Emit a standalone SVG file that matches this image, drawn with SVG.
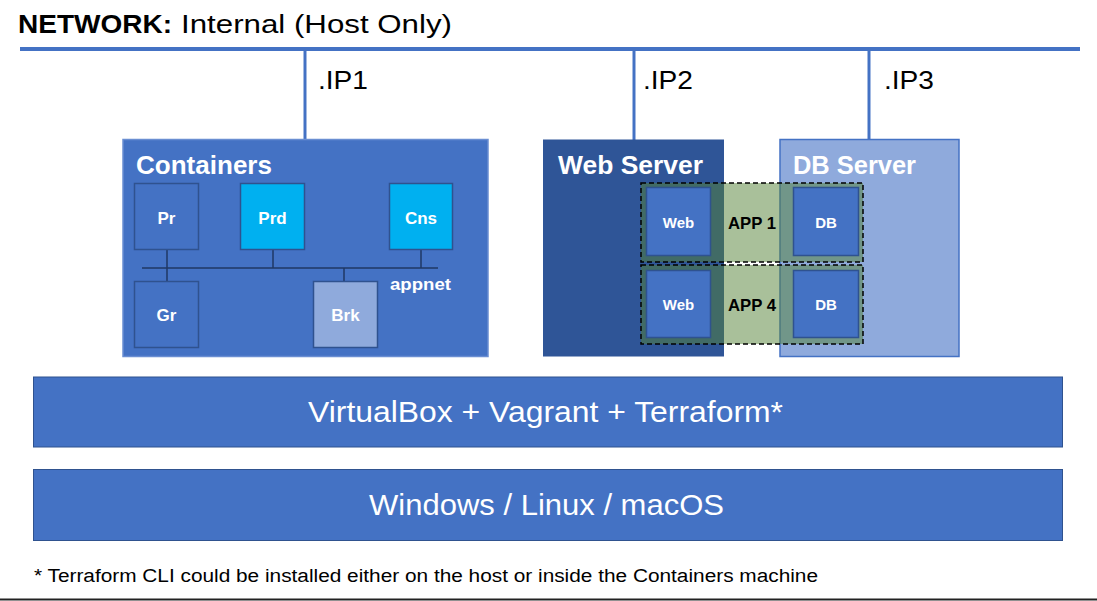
<svg xmlns="http://www.w3.org/2000/svg" width="1097" height="601" viewBox="0 0 1097 601">
<style>
text{font-family:"Liberation Sans","DejaVu Sans",sans-serif}
.w{fill:#fff}
.b{font-weight:bold}
.net{stroke:#4472C4;fill:none}
.lan{stroke:#1F3864;stroke-width:1.5;fill:none}
.sq{stroke:#2F528F;stroke-width:1.5}
.mid{fill:#4472C4}
.cyan{fill:#00B0F0}
.pale{fill:#8FAADC}
.app{fill:#548235;fill-opacity:0.5;stroke:#000;stroke-width:1.5;stroke-dasharray:5 3}
.bar{fill:#4472C4;stroke:#2F528F;stroke-width:1}
</style>
<rect width="1097" height="601" fill="#fff"/>
<g id="title">
<text x="18" y="33" font-size="25" class="b" fill="#000" textLength="154" lengthAdjust="spacingAndGlyphs">NETWORK:</text>
<text x="181" y="33" font-size="25" fill="#000" textLength="271" lengthAdjust="spacingAndGlyphs">Internal (Host Only)</text>
</g>
<g id="connectors">
<line class="net" x1="20" y1="49" x2="1080" y2="49" stroke-width="4"/>
<line class="net" x1="305" y1="49" x2="305" y2="140" stroke-width="3"/>
<line class="net" x1="634" y1="49" x2="634" y2="140" stroke-width="3"/>
<line class="net" x1="869" y1="49" x2="869" y2="140" stroke-width="3"/>
</g>
<g id="ip-labels" font-size="26" fill="#000">
<text x="318" y="89" textLength="50" lengthAdjust="spacingAndGlyphs">.IP1</text>
<text x="643" y="89" textLength="50" lengthAdjust="spacingAndGlyphs">.IP2</text>
<text x="884" y="89" textLength="50" lengthAdjust="spacingAndGlyphs">.IP3</text>
</g>
<g id="containers">
<rect x="123" y="139.5" width="365" height="217" fill="#4472C4" stroke="#6A8ED2" stroke-width="1.5"/>
<text x="136" y="174" font-size="25" class="w b" textLength="136" lengthAdjust="spacingAndGlyphs">Containers</text>
<g id="appnet-links">
<line class="lan" x1="142" y1="268" x2="438" y2="268"/>
<line class="lan" x1="167" y1="250" x2="167" y2="281"/>
<line class="lan" x1="273" y1="250" x2="273" y2="268"/>
<line class="lan" x1="421" y1="250" x2="421" y2="268"/>
<line class="lan" x1="344" y1="268" x2="344" y2="281"/>
</g>
<text x="390" y="290" font-size="17" class="w b" textLength="61" lengthAdjust="spacingAndGlyphs">appnet</text>
<g id="pr"><rect class="sq mid" x="134.5" y="183.5" width="64" height="66"/><text x="166.5" y="224" font-size="17" class="w b" text-anchor="middle">Pr</text></g>
<g id="prd"><rect class="sq cyan" x="240.5" y="183.5" width="64" height="66"/><text x="272.5" y="224" font-size="17" class="w b" text-anchor="middle">Prd</text></g>
<g id="cns"><rect class="sq cyan" x="389.5" y="183.5" width="63" height="66"/><text x="421" y="224" font-size="17" class="w b" text-anchor="middle">Cns</text></g>
<g id="gr"><rect class="sq mid" x="134.5" y="281.5" width="64" height="66"/><text x="166.5" y="321" font-size="17" class="w b" text-anchor="middle">Gr</text></g>
<g id="brk"><rect class="sq pale" x="313.5" y="281.5" width="64" height="66"/><text x="345.5" y="321" font-size="17" class="w b" text-anchor="middle">Brk</text></g>
</g>
<g id="web-server">
<rect x="543" y="139.5" width="181" height="217" fill="#2F5597"/>
<text x="558" y="174" font-size="25" class="w b" textLength="145" lengthAdjust="spacingAndGlyphs">Web Server</text>
</g>
<g id="db-server">
<rect x="780" y="139.5" width="179" height="217" fill="#8FAADC" stroke="#4472C4" stroke-width="1.5"/>
<text x="793" y="174" font-size="25" class="w b" textLength="123" lengthAdjust="spacingAndGlyphs">DB Server</text>
</g>
<g id="app1">
<rect class="app" x="641" y="183" width="222" height="79"/>
<text x="752" y="229" font-size="17" class="b" fill="#000" text-anchor="middle" textLength="48" lengthAdjust="spacingAndGlyphs">APP 1</text>
<g id="web1"><rect class="sq mid" x="646.5" y="187.5" width="64" height="68"/><text x="678.5" y="228" font-size="15" class="w b" text-anchor="middle">Web</text></g>
<g id="db1"><rect class="sq mid" x="793.5" y="187.5" width="65" height="68"/><text x="826" y="228" font-size="15" class="w b" text-anchor="middle">DB</text></g>
</g>
<g id="app4">
<rect class="app" x="641" y="265" width="222" height="79"/>
<text x="752" y="311" font-size="17" class="b" fill="#000" text-anchor="middle" textLength="48" lengthAdjust="spacingAndGlyphs">APP 4</text>
<g id="web4"><rect class="sq mid" x="646.5" y="270.5" width="64" height="67"/><text x="678.5" y="310" font-size="15" class="w b" text-anchor="middle">Web</text></g>
<g id="db4"><rect class="sq mid" x="793.5" y="270.5" width="65" height="67"/><text x="826" y="310" font-size="15" class="w b" text-anchor="middle">DB</text></g>
</g>
<g id="virtualization">
<rect class="bar" x="33.5" y="377" width="1029" height="70"/>
<text x="545.5" y="422" font-size="30" class="w" text-anchor="middle" textLength="475" lengthAdjust="spacingAndGlyphs">VirtualBox + Vagrant + Terraform*</text>
</g>
<g id="host-os">
<rect class="bar" x="33.5" y="469.5" width="1029" height="71"/>
<text x="546.5" y="515" font-size="30" class="w" text-anchor="middle" textLength="355" lengthAdjust="spacingAndGlyphs">Windows / Linux / macOS</text>
</g>
<text x="34" y="582" font-size="18" fill="#000" textLength="784" lengthAdjust="spacingAndGlyphs">* Terraform CLI could be installed either on the host or inside the Containers machine</text>
<line x1="0" y1="599.5" x2="1097" y2="599.5" stroke="#222" stroke-width="2"/>
</svg>
